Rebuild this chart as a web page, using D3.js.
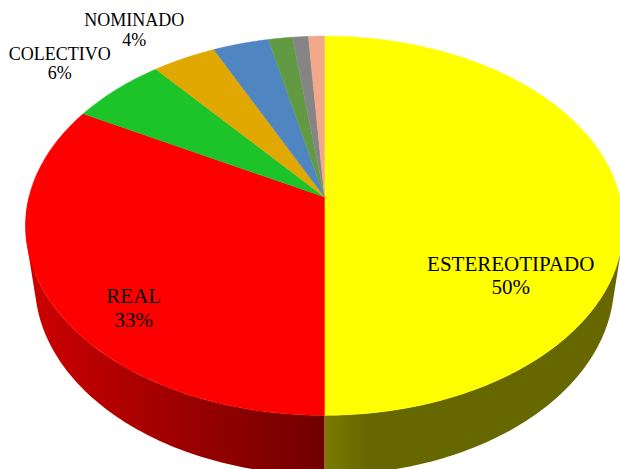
<!DOCTYPE html>
<html>
<head>
<meta charset="utf-8">
<script src="https://cdn.jsdelivr.net/npm/d3@7"></script>
<style>
body{margin:0;background:#fff;}
svg{display:block;}
</style>
</head>
<body>
<script>
// slices clockwise from 12 o'clock; the four small ones carry no label in the chart
var categories = ["ESTEREOTIPADO", "REAL", "COLECTIVO", "NOMINADO", "", "", "", ""];
var values = [50, 33, 6, 4, 3.5, 1.5, 1, 1];
var colors = ["#ffff00", "#ff0000", "#1cc42a", "#e0a800", "#4f86c1", "#619a43", "#858585", "#f3a88c"];

// label placement: radius (pie units) along mid angle, vertical shift, font size, line gap
var labelR = [0.63, 0.709, 1.31, 1.42];
var labelDy = [74, 35, 0, 17];
var labelSize = [21, 21, 18, 18];
var labelGap = [22.5, 24, 19.5, 20];

var W = 620, H = 469;
var cx = 324.5, cy = 197;
// simple perspective camera looking down on the disc
var F = 1522, dist = 5.15, sinA = 0.627, cosA = Math.sqrt(1 - sinA * sinA), thick = 0.258;

function proj(a, r, yw) {
    var X = r * Math.sin(a), Z = -r * Math.cos(a);
    var dep = dist - (yw * sinA + Z * cosA);
    return [cx + F * X / dep, cy - F * (yw * cosA - Z * sinA) / dep];
}

var total = d3.sum(values);
var fmt = d3.format(".0%");
var pie = d3.pie().sort(null).value(function(d){ return d; }).startAngle(0).endAngle(2 * Math.PI);
var arcs = pie(values);

var svg = d3.select("body").append("svg").attr("width", W).attr("height", H);
var defs = svg.append("defs");

// side shading: lighter at the left, darkest near the front, flat olive-ish on the right
var shadeStops = [[0, 0.6], [0.5, 2.3], [0.5, 2.05], [0.57, 2.55], [1, 2.55]];
arcs.forEach(function(d, i){
    var g = defs.append("linearGradient").attr("id", "side" + i)
        .attr("gradientUnits", "userSpaceOnUse")
        .attr("x1", cx - 300).attr("x2", cx + 300).attr("y1", 0).attr("y2", 0);
    shadeStops.forEach(function(s){
        g.append("stop").attr("offset", s[0]).attr("stop-color", d3.color(colors[i]).darker(s[1]).toString());
    });
});

var step = Math.PI / 180;

function sidePath(a0, a1) {
    var lo = Math.max(a0, Math.PI / 2), hi = Math.min(a1, 1.5 * Math.PI);
    if (hi <= lo) return null;
    var n = Math.max(2, Math.ceil((hi - lo) / step));
    var p = d3.path();
    for (var k = 0; k < n; k++) {
        var t0 = lo + (hi - lo) * k / n, t1 = lo + (hi - lo) * (k + 1) / n;
        var q = [proj(t0, 1, 0), proj(t1, 1, 0), proj(t1, 1, -thick), proj(t0, 1, -thick)];
        if (d3.polygonArea(q) < 0) q.reverse();
        p.moveTo(q[0][0], q[0][1]);
        for (var j = 1; j < 4; j++) p.lineTo(q[j][0], q[j][1]);
        p.closePath();
    }
    return p.toString();
}

function topPath(a0, a1) {
    var n = Math.max(2, Math.ceil((a1 - a0) / step));
    var pts = d3.range(n + 1).map(function(k){ return proj(a0 + (a1 - a0) * k / n, 1, 0); });
    pts.push(proj(0, 0, 0));
    return d3.line()(pts) + "Z";
}

var sides = svg.append("g");
arcs.forEach(function(d, i){
    var s = sidePath(d.startAngle, d.endAngle);
    if (s) sides.append("path").attr("d", s).attr("fill", "url(#side" + i + ")");
});

svg.append("g").selectAll("path").data(arcs).enter().append("path")
    .attr("d", function(d){ return topPath(d.startAngle, d.endAngle); })
    .attr("fill", function(d, i){ return colors[i]; })
    .attr("stroke", function(d, i){ return colors[i]; })
    .attr("stroke-width", 0.4);

var labels = svg.append("g");
arcs.forEach(function(d, i){
    if (!categories[i]) return;
    var mid = (d.startAngle + d.endAngle) / 2;
    var p = proj(mid, labelR[i], 0);
    var t = labels.append("text").attr("text-anchor", "middle")
        .attr("font-family", "Liberation Serif").attr("font-size", labelSize[i]).attr("fill", "#000");
    t.append("tspan").attr("x", p[0]).attr("y", p[1] + labelDy[i]).text(categories[i]);
    t.append("tspan").attr("x", p[0]).attr("y", p[1] + labelDy[i] + labelGap[i]).text(fmt(d.value / total));
});
</script>
</body>
</html>
